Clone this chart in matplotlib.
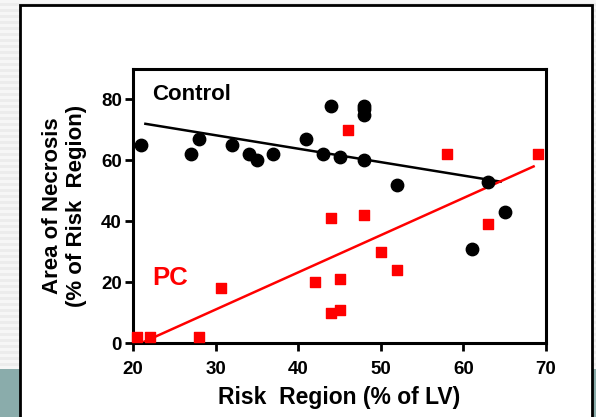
import numpy as np
import matplotlib.pyplot as plt
from matplotlib.patches import Rectangle

plt.rcParams['font.family'] = ['Liberation Sans', 'DejaVu Sans']
plt.rcParams['font.weight'] = 'bold'

# control group (black circles)
ctrl_x = [21, 27, 28, 32, 34, 35, 37, 41, 43, 44, 45, 48, 48, 48, 48, 52, 61, 63, 65]
ctrl_y = [65, 62, 67, 65, 62, 60, 62, 67, 62, 78, 61, 78, 77, 75, 60, 52, 31, 53, 43]

# preconditioned group (red squares)
pc_x = [20.5, 22, 28, 30.6, 42, 44, 44, 45, 45, 46, 48, 50, 52, 58, 63, 69]
pc_y = [2, 2, 2, 18, 20, 41, 10, 21, 11, 70, 42, 30, 24, 62, 39, 62]

# regression lines, end points
ctrl_fit_x = [21.5, 64.5]
ctrl_fit_y = [72, 53]
pc_fit_x = [21, 68.5]
pc_fit_y = [0, 58]

xticks = [20, 30, 40, 50, 60, 70]
yticks = [0, 20, 40, 60, 80]

fig = plt.figure(figsize=(5.96, 4.17), dpi=100)
fig.patch.set_facecolor('#ececec')

# slide background: grey stripes, teal band, white panel
for i in range(0, 417, 6):
    fig.patches.append(Rectangle((0, i / 417), 1, 3 / 417, transform=fig.transFigure,
                                 facecolor='#f6f6f6', edgecolor='none', zorder=-3))
fig.patches.append(Rectangle((0, 0), 1, 48 / 417, transform=fig.transFigure,
                             facecolor='#8aacab', edgecolor='none', zorder=-2))
fig.patches.append(Rectangle((20 / 596, -0.1), 572 / 596, 1.087, transform=fig.transFigure,
                             facecolor='white', edgecolor='black', linewidth=2, zorder=-1))

ax = fig.add_axes([133 / 596, 1 - 343 / 417, 413 / 596, 274 / 417])
ax.set_facecolor('none')

ax.scatter(ctrl_x, ctrl_y, s=80, c='black', marker='o', zorder=3, clip_on=False)
ax.scatter(pc_x, pc_y, s=55, c='#ff0000', marker='s', zorder=3, clip_on=False)
ax.plot(ctrl_fit_x, ctrl_fit_y, color='black', linewidth=1.8, zorder=2)
ax.plot(pc_fit_x, pc_fit_y, color='#ff0000', linewidth=1.8, zorder=2)

ax.set_xlim(20, 70)
ax.set_ylim(0, 90)
ax.set_xticks(xticks)
ax.set_yticks(yticks)
ax.tick_params(direction='out', length=6, width=2, labelsize=13.5)
ax.tick_params(axis='x', pad=7)
ax.tick_params(axis='y', pad=2)
for sp in ax.spines.values():
    sp.set_linewidth(2.2)

ax.text(22.3, 81.5, 'Control', fontsize=16, fontweight='bold', color='black', va='center')
ax.text(22.3, 21.5, 'PC', fontsize=18.5, fontweight='bold', color='#ff0000', va='center')

ax.set_xlabel('Risk  Region (% of LV)', fontsize=16.5, fontweight='bold', labelpad=5.5)
ax.set_ylabel('Area of Necrosis\n(% of Risk  Region)', fontsize=16, fontweight='bold',
              labelpad=10, linespacing=1.2)

fig.savefig('out.png', dpi=100)
